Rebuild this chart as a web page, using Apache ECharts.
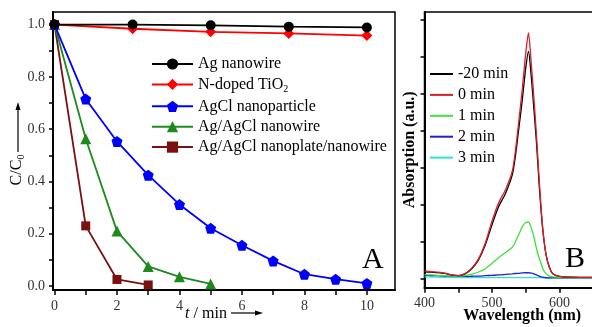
<!DOCTYPE html>
<html>
<head>
<meta charset="utf-8">
<script src="https://cdn.jsdelivr.net/npm/echarts@6/dist/echarts.min.js"></script>
<style>
  html, body { margin: 0; padding: 0; background: #fff; }
  #chart { width: 592px; height: 327px; }
</style>
</head>
<body>
<div id="chart"></div>
<script>
// panel A: C/C0 against time
var tSlow = [0, 2.5, 5, 7.5, 10];
var cAgWire = [1.0, 1.0, 0.997, 0.992, 0.989];
var cTiO2 = [1.0, 0.984, 0.972, 0.966, 0.958];
var tAgCl = [0, 1, 2, 3, 4, 5, 6, 7, 8, 9, 10];
var cAgCl = [1.0, 0.715, 0.553, 0.424, 0.312, 0.221, 0.156, 0.096, 0.045, 0.026, 0.010];
var tAgAgClWire = [0, 1, 2, 3, 4, 5];
var cAgAgClWire = [1.0, 0.563, 0.210, 0.075, 0.035, 0.008];
var tPlate = [0, 1, 2, 3];
var cPlate = [1.0, 0.230, 0.025, 0.004];

// panel B: absorption spectra
var wavelength = [400, 410, 420, 430, 440, 450, 460, 470, 480, 490, 500, 510, 520, 530, 535, 540, 545, 550, 554, 558, 562, 566, 570, 575, 580, 585, 590, 600, 620, 640, 660];
var absM20 = [0.035, 0.033, 0.031, 0.027, 0.018, 0.014, 0.024, 0.052, 0.10, 0.18, 0.29, 0.39, 0.46, 0.56, 0.67, 0.82, 0.97, 1.14, 1.23, 1.10, 0.92, 0.73, 0.50, 0.27, 0.13, 0.06, 0.025, 0.010, 0.006, 0.005, 0.005];
var abs0 = [0.040, 0.036, 0.033, 0.028, 0.018, 0.014, 0.025, 0.055, 0.105, 0.19, 0.31, 0.41, 0.48, 0.58, 0.70, 0.86, 1.03, 1.22, 1.33, 1.17, 0.98, 0.77, 0.53, 0.28, 0.13, 0.06, 0.025, 0.010, 0.006, 0.005, 0.005];
var abs1 = [0.020, 0.018, 0.016, 0.014, 0.012, 0.012, 0.015, 0.022, 0.034, 0.052, 0.080, 0.113, 0.140, 0.168, 0.200, 0.240, 0.280, 0.302, 0.305, 0.275, 0.225, 0.160, 0.110, 0.055, 0.025, 0.012, 0.008, 0.005, 0.004, 0.004, 0.004];
var abs2 = [0.016, 0.015, 0.014, 0.012, 0.011, 0.010, 0.010, 0.011, 0.012, 0.014, 0.016, 0.018, 0.021, 0.024, 0.026, 0.027, 0.029, 0.030, 0.030, 0.028, 0.024, 0.018, 0.012, 0.006, 0.003, 0.002, 0.002, 0.002, 0.002, 0.002, 0.002];
var abs3 = [0.008, 0.007, 0.006, 0.005, 0.005, 0.004, 0.004, 0.004, 0.004, 0.004, 0.004, 0.004, 0.004, 0.004, 0.004, 0.004, 0.004, 0.004, 0.004, 0.004, 0.004, 0.004, 0.004, 0.003, 0.003, 0.003, 0.003, 0.003, 0.003, 0.003, 0.003];

var aNames = ['Ag nanowire', 'N-doped TiO2', 'AgCl nanoparticle', 'Ag/AgCl nanowire', 'Ag/AgCl nanoplate/nanowire'];
var bNames = ['-20 min', '0 min', '1 min', '2 min', '3 min'];

function pairs(xs, ys) {
    return xs.map(function (x, i) { return [x, ys[i]]; });
}

var serif = 'Liberation Serif, Times New Roman, serif';
var pentagon = 'path://M0,-1 L0.951,-0.309 L0.588,0.809 L-0.588,0.809 L-0.951,-0.309 Z';

var myChart = echarts.init(document.getElementById('chart'));

function aLine(name, data, color, symbol, size, z) {
    return {
        name: name,
        type: 'line',
        xAxisIndex: 0,
        yAxisIndex: 0,
        data: data,
        symbol: symbol,
        symbolSize: size,
        z: z,
        lineStyle: { color: color, width: 1.8 },
        itemStyle: { color: color }
    };
}

function bLine(name, data, color, z) {
    return {
        name: name,
        type: 'line',
        xAxisIndex: 1,
        yAxisIndex: 1,
        data: data,
        symbol: 'none',
        smooth: 0.25,
        z: z,
        lineStyle: { color: color, width: 1.3 },
        itemStyle: { color: color }
    };
}

var option = {
    backgroundColor: '#fff',
    animation: false,
    textStyle: { fontFamily: serif },
    grid: [{
        left: 53, top: 12, right: 197, bottom: 37,
        outerBoundsMode: 'none',
        show: true, borderColor: '#000', borderWidth: 1.5
    }, {
        left: 424.5, top: 12, right: -8, bottom: 39.3,
        outerBoundsMode: 'none',
        show: true, borderColor: '#000', borderWidth: 1.5
    }],
    legend: [{
        orient: 'vertical',
        left: 146, top: 51,
        itemWidth: 41, itemHeight: 14, itemGap: 4.4,
        data: aNames,
        textStyle: {
            fontFamily: serif, fontSize: 16, color: '#000',
            rich: { sub: { fontFamily: serif, fontSize: 10, padding: [9, 0, 0, 0] } }
        },
        formatter: function (n) {
            return n === 'N-doped TiO2' ? 'N-doped TiO{sub|2}' : n;
        }
    }, {
        orient: 'vertical',
        left: 425, top: 61,
        icon: 'rect',
        itemWidth: 23, itemHeight: 2, itemGap: 4.9,
        data: bNames,
        textStyle: { fontFamily: serif, fontSize: 16, color: '#000' }
    }],
    xAxis: [{
        gridIndex: 0,
        type: 'value',
        min: -0.048, max: 10.9,
        name: '{it|t} / min',
        nameLocation: 'middle',
        nameGap: 16,
        nameMoveOverlap: false,
        nameTextStyle: {
            fontFamily: serif, fontSize: 16, color: '#000',
            padding: [0, 36, 0, 0],
            rich: { it: { fontFamily: serif, fontSize: 16, fontStyle: 'italic' } }
        },
        splitLine: { show: false },
        axisLine: { onZero: false, lineStyle: { color: '#000', width: 2 } },
        axisTick: { inside: false, length: 5, customValues: [0, 1, 2, 3, 4, 5, 6, 7, 8, 9, 10], lineStyle: { color: '#000', width: 1.5 } },
        axisLabel: { customValues: [0, 2, 4, 6, 8, 10], margin: 9, fontSize: 14, color: '#333', fontFamily: serif }
    }, {
        gridIndex: 1,
        type: 'value',
        min: 400, max: 660, interval: 50,
        name: 'Wavelength (nm)',
        nameLocation: 'middle',
        nameGap: 20,
        nameMoveOverlap: false,
        nameTextStyle: {
            fontFamily: serif, fontSize: 16, fontWeight: 'bold', color: '#000',
            padding: [0, 0, 0, 20]
        },
        splitLine: { show: false },
        axisLine: { onZero: false, lineStyle: { color: '#000', width: 2 } },
        axisTick: { inside: false, length: 5, lineStyle: { color: '#000', width: 1.5 } },
        axisLabel: {
            margin: 9, fontSize: 14, color: '#333', fontFamily: serif,
            formatter: function (v) { return v % 100 === 0 ? String(v) : ''; }
        }
    }],
    yAxis: [{
        gridIndex: 0,
        type: 'value',
        min: -0.0153, max: 1.048,
        name: 'C/C{sub|0}',
        nameLocation: 'middle',
        nameGap: 27,
        nameMoveOverlap: false,
        nameTextStyle: {
            fontFamily: serif, fontSize: 16, color: '#000',
            padding: [0, 38, 0, 0],
            rich: { sub: { fontFamily: serif, fontSize: 10, padding: [9, 0, 0, 0] } }
        },
        splitLine: { show: false },
        axisLine: { onZero: false, lineStyle: { color: '#000', width: 2 } },
        axisTick: { inside: false, length: 4, customValues: [0, 0.1, 0.2, 0.3, 0.4, 0.5, 0.6, 0.7, 0.8, 0.9, 1.0], lineStyle: { color: '#000', width: 1.5 } },
        axisLabel: {
            customValues: [0, 0.2, 0.4, 0.6, 0.8, 1.0], margin: 8, fontSize: 14, color: '#333', fontFamily: serif,
            formatter: function (v) { return v.toFixed(1); }
        }
    }, {
        gridIndex: 1,
        type: 'value',
        min: -0.051, max: 1.443,
        name: 'Absorption (a.u.)',
        nameLocation: 'middle',
        nameGap: 7,
        nameMoveOverlap: false,
        nameTextStyle: { fontFamily: serif, fontSize: 16, fontWeight: 'bold', color: '#000' },
        splitLine: { show: false },
        axisLine: { onZero: false, lineStyle: { color: '#000', width: 2 } },
        axisTick: { inside: false, length: 4, customValues: [0, 0.2, 0.4, 0.6, 0.8, 1.0, 1.2, 1.4], lineStyle: { color: '#000', width: 1.5 } },
        axisLabel: { show: false }
    }],
    graphic: [
        // arrows next to the axis names of panel A
        { type: 'line', shape: { x1: 18, y1: 152, x2: 18, y2: 106 }, style: { stroke: '#000', lineWidth: 1.2 } },
        { type: 'polygon', shape: { points: [[18, 102], [15.5, 110], [20.5, 110]] }, style: { fill: '#000' } },
        { type: 'line', shape: { x1: 231, y1: 313, x2: 258, y2: 313 }, style: { stroke: '#000', lineWidth: 1.2 } },
        { type: 'polygon', shape: { points: [[263, 313], [255, 310.5], [255, 315.5]] }, style: { fill: '#000' } },
        { type: 'text', left: 362, top: 245, style: { text: 'A', font: '30px ' + serif, fill: '#000' } },
        { type: 'text', left: 565, top: 244, style: { text: 'B', font: '30px ' + serif, fill: '#000' } }
    ],
    series: [
        aLine(aNames[4], pairs(tPlate, cPlate), '#7a1010', 'rect', 9, 2),
        aLine(aNames[3], pairs(tAgAgClWire, cAgAgClWire), '#1e8a1e', 'triangle', 11, 3),
        aLine(aNames[2], pairs(tAgCl, cAgCl), '#0000ff', pentagon, 11, 4),
        aLine(aNames[1], pairs(tSlow, cTiO2), '#ff0000', 'diamond', 11, 5),
        aLine(aNames[0], pairs(tSlow, cAgWire), '#000000', 'circle', 10, 6),
        bLine(bNames[4], pairs(wavelength, abs3), '#30e0e0', 2),
        bLine(bNames[3], pairs(wavelength, abs2), '#2020c8', 3),
        bLine(bNames[2], pairs(wavelength, abs1), '#40e040', 4),
        bLine(bNames[0], pairs(wavelength, absM20), '#000000', 5),
        bLine(bNames[1], pairs(wavelength, abs0), '#d82028', 6)
    ]
};
myChart.setOption(option);
</script>
</body>
</html>
